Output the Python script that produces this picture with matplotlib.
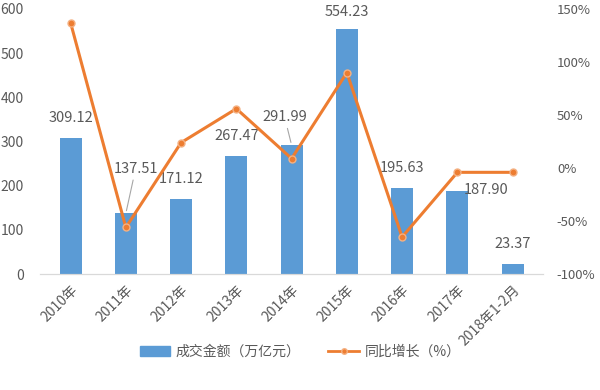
import numpy as np
import matplotlib
matplotlib.use("Agg")
import matplotlib.pyplot as plt
from matplotlib.lines import Line2D
from matplotlib.patches import Patch

plt.rcParams['font.family'] = ['Noto Sans CJK SC', 'DejaVu Sans']

categories = ["2010年", "2011年", "2012年", "2013年", "2014年", "2015年", "2016年", "2017年", "2018年1-2月"]
amount = [309.12, 137.51, 171.12, 267.47, 291.99, 554.23, 195.63, 187.90, 23.37]
growth = [137, -56, 24, 56, 9, 90, -65, -4, -4]
amount_labels = ["309.12", "137.51", "171.12", "267.47", "291.99", "554.23", "195.63", "187.90", "23.37"]

# label offsets in points (dx, dy) and whether a leader line is drawn
label_offsets = [(0, 9), (7, 27), (0, 9), (0, 9), (-5, 15), (0, 7), (0, 9), (21, -4), (0, 9)]
leader = [False, True, False, False, True, False, False, False, False]

text_col = '#595959'
bar_col = '#5b9bd5'
line_col = '#ed7d31'

fig = plt.figure(figsize=(6, 3.9), dpi=100)
ax = fig.add_axes([0.067, 0.297, 0.838, 0.680])
ax2 = ax.twinx()

x = np.arange(len(categories))
ax.bar(x, amount, width=0.4, color=bar_col, zorder=2)

for i, (v, lab) in enumerate(zip(amount, amount_labels)):
    dx, dy = label_offsets[i]
    ax.annotate(lab, (x[i], v), xytext=(dx, dy), textcoords='offset points',
                ha='center', va='bottom', fontsize=10.5, color=text_col,
                arrowprops=dict(arrowstyle='-', color='#a6a6a6', lw=0.8, shrinkA=1, shrinkB=2) if leader[i] else None,
                zorder=5)

ax2.plot(x, growth, color=line_col, lw=2.2, marker='o', markersize=5,
         markerfacecolor=line_col, markeredgecolor='#f4b183', markeredgewidth=1, zorder=3)

ax.set_xlim(-0.55, len(categories) - 0.45)
ax.set_ylim(0, 600)
ax.set_yticks(range(0, 601, 100))
ax2.set_ylim(-100, 150)
ax2.set_yticks(range(-100, 151, 50))
ax2.set_yticklabels([f"{t}%" for t in range(-100, 151, 50)])

ax.set_xticks(x)
ax.set_xticklabels(categories, rotation=45, ha='right', rotation_mode='anchor')

for a in (ax, ax2):
    for s in ['top', 'right', 'left']:
        a.spines[s].set_visible(False)
    a.spines['bottom'].set_color('#d9d9d9')
    a.tick_params(length=0, labelsize=10, colors=text_col)
ax.tick_params(axis='y', pad=12)
ax2.tick_params(axis='y', pad=10, labelsize=9.5)
ax.tick_params(axis='x', pad=6)

ax2.set_zorder(ax.get_zorder() + 1)
ax2.patch.set_visible(False)

handles = [Patch(color=bar_col, label='成交金额（万亿元）'),
           Line2D([0], [0], color=line_col, lw=2, marker='o', markersize=4,
                  markeredgecolor='#f4b183', label='同比增长（%）')]
fig.legend(handles=handles, loc='center', bbox_to_anchor=(0.5, 0.097), ncol=2,
           frameon=False, fontsize=10, labelcolor=text_col, handlelength=2.2,
           columnspacing=2.0, handletextpad=0.4)

fig.savefig("out.png", dpi=100)
